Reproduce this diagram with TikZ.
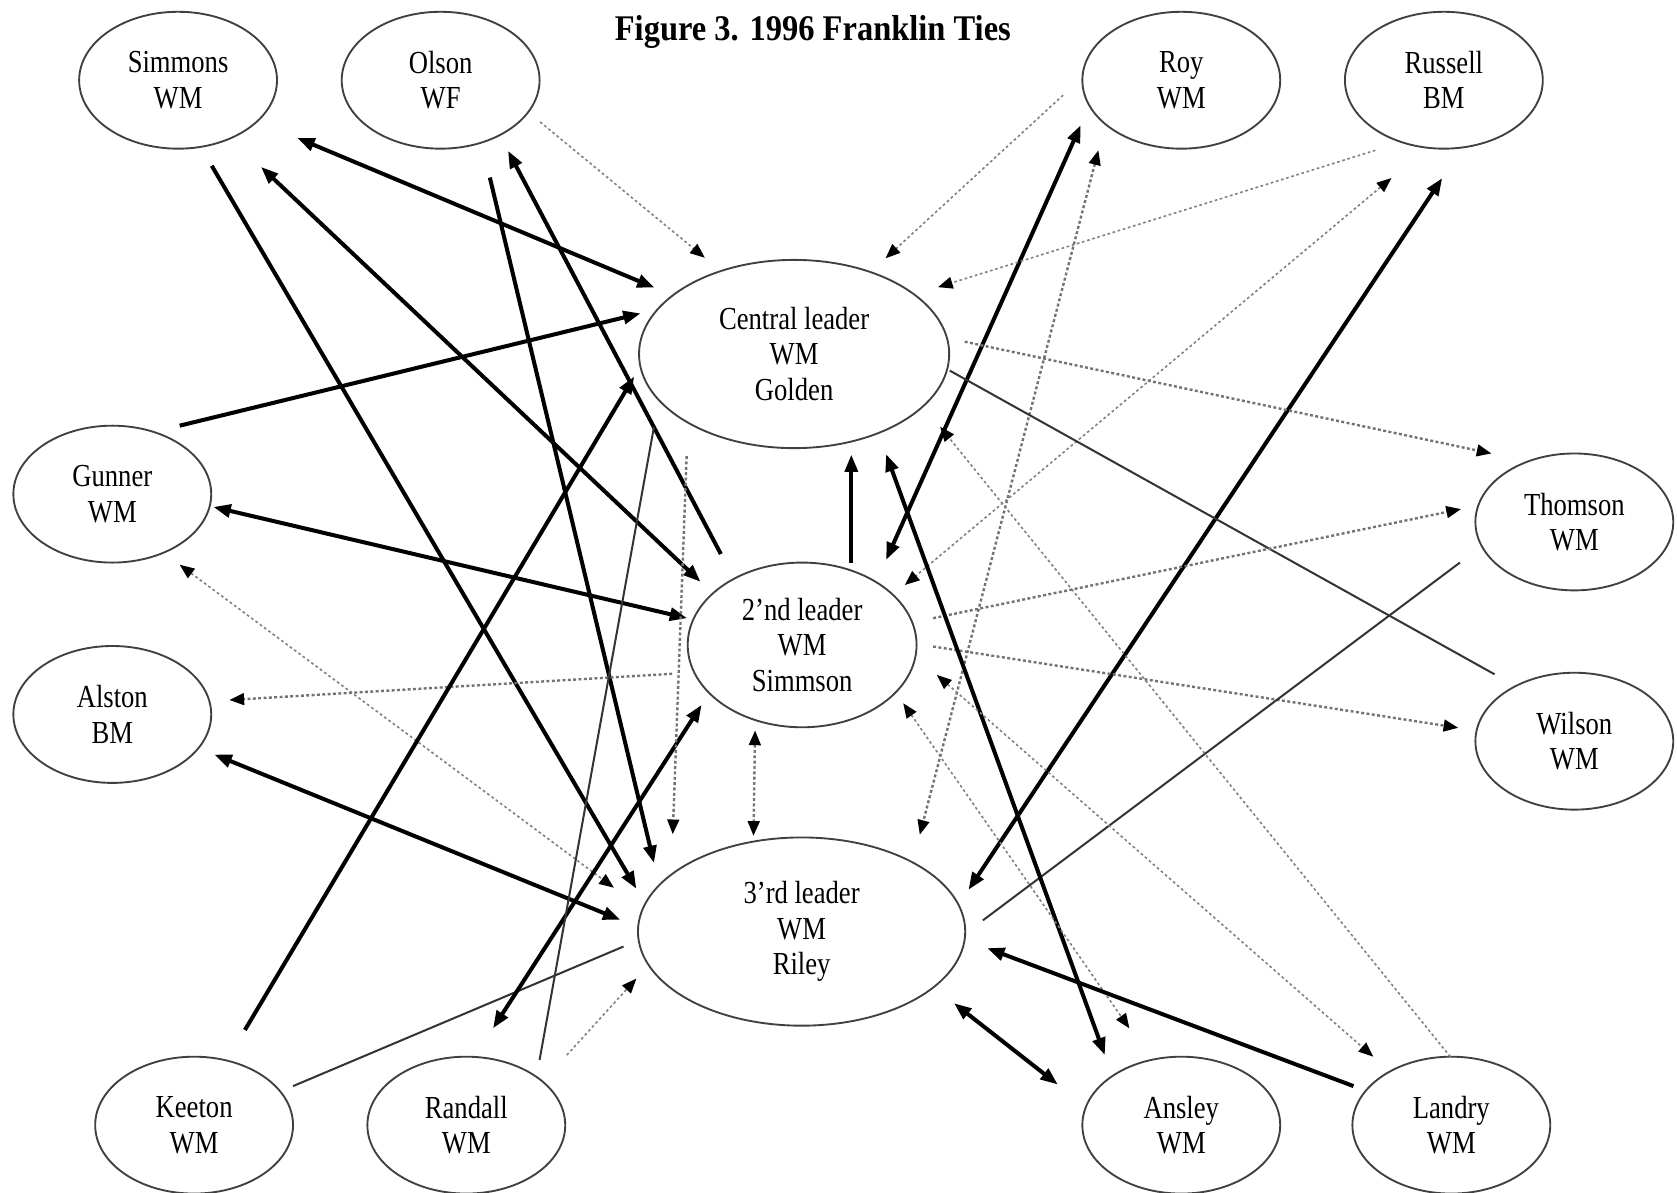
\documentclass[tikz,border=0pt]{standalone}
\usepackage{fontspec}
\setmainfont{Liberation Serif}[FakeStretch=0.83]
\newfontfamily\titlefont{Liberation Serif}[FakeStretch=0.9]
\usetikzlibrary{arrows.meta,calc,shapes.geometric}
\begin{document}
\begin{tikzpicture}[x=0.4pt,y=-0.4pt,
  person/.style={ellipse, draw=black!75, line width=0.7pt, inner sep=0pt,
    minimum width=74pt, minimum height=51.2pt, align=center,
    font=\fontsize{12}{13.2}\selectfont},
  bigcen/.style={person, minimum width=116pt, minimum height=70.4pt},
  bigsec/.style={person, minimum width=85.6pt, minimum height=61.6pt},
  bigthi/.style={person, minimum width=122.4pt, minimum height=70.4pt},
  tiethick/.style={draw=black, line width=1.5pt,
    >={Triangle[length=6.5pt,width=4.8pt]}},
  tiethin/.style={draw=black!80, line width=0.75pt},
  tiedot/.style={draw=black!50, line width=0.6pt, dash pattern=on 1pt off 1pt,
    >={Triangle[length=5.5pt,width=4.4pt,color=black]}},
  tiedotb/.style={draw=black!55, line width=0.9pt, dash pattern=on 1.1pt off 0.9pt,
    >={Triangle[length=5.5pt,width=4.4pt,color=black]}}
]
\useasboundingbox (0,0) rectangle (1568,1115);

\node[font=\titlefont\bfseries\fontsize{13.5}{15}\selectfont] (title) at (760,30) {Figure 3. 1996 Franklin Ties};

\node[person] (Sim) at (166.5,75) {Simmons\\WM};
\node[person] (Ols) at (412,75) {Olson\\WF};
\node[person] (Roy) at (1104.5,75) {Roy\\WM};
\node[person] (Rus) at (1350,75) {Russell\\BM};
\node[person] (Gun) at (105,462) {Gunner\\WM};
\node[person] (Als) at (105,668) {Alston\\BM};
\node[person] (Tho) at (1472,488) {Thomson\\WM};
\node[person] (Wil) at (1472,693) {Wilson\\WM};
\node[person] (Kee) at (181.5,1052) {Keeton\\WM};
\node[person] (Ran) at (436,1052) {Randall\\WM};
\node[person] (Ans) at (1104.5,1052) {Ansley\\WM};
\node[person] (Lan) at (1357,1052) {Landry\\WM};
\node[bigcen] (Cen) at (742.5,331) {Central leader\\WM\\Golden};
\node[bigsec] (Sec) at (750,603) {2’nd leader\\WM\\Simmson};
\node[bigthi] (Thi) at (749.5,871) {3’rd leader\\WM\\Riley};

% Simmons
\draw[tiethick,<->] ($(Sim)+(111.5,54)$) -- ($(Cen)+(-130.5,-62)$);
\draw[tiethick,->] ($(Sim)+(31.5,80)$) -- ($(Thi)+(-154.5,-40)$);
\draw[tiethick,<->] ($(Sim)+(77.5,81)$) -- ($(Sec)+(-95,-59)$);
% Olson
\draw[tiedot,->] ($(Ols)+(93,39)$) -- ($(Cen)+(-83.5,-90)$);
\draw[tiethick,->] ($(Sec)+(-76,-85)$) -- ($(Ols)+(63,66)$);
\draw[tiethick,->] ($(Ols)+(46,91)$) -- ($(Thi)+(-138,-64)$);
% Gunner
\draw[tiethick,->] ($(Gun)+(63,-64)$) -- ($(Cen)+(-143.5,-38)$);
\draw[tiethick,<->] ($(Gun)+(94.5,12)$) -- ($(Sec)+(-107.5,-25)$);
\draw[tiedot,<->] ($(Gun)+(63,66)$) -- ($(Thi)+(-175.5,-41)$);
% Alston
\draw[tiedotb,->] ($(Sec)+(-121.5,27)$) -- ($(Als)+(109.5,-13.5)$);
\draw[tiethick,<->] ($(Als)+(95.5,37.5)$) -- ($(Thi)+(-169.5,-11)$);
% Keeton
\draw[tiethick,->] ($(Kee)+(47.5,-89)$) -- ($(Cen)+(-149.5,21)$);
\draw[tiethin] ($(Kee)+(92.5,-36.5)$) -- ($(Thi)+(-166.5,14)$);
% Randall
\draw[tiethick,<->] ($(Ran)+(25,-90.5)$) -- ($(Sec)+(-94,56)$);
\draw[tiethin] ($(Ran)+(68.5,-61)$) -- ($(Cen)+(-131,68)$);
\draw[tiedot,->] ($(Ran)+(94,-65.5)$) -- ($(Thi)+(-154.5,44)$);
% leaders
\draw[tiedotb,->] ($(Cen)+(-100.5,95.5)$) -- ($(Thi)+(-120.5,-91)$);
\draw[tiedotb,<->] ($(Sec)+(-44,80)$) -- ($(Thi)+(-45,-89.5)$);
\draw[tiethick,->] ($(Sec)+(46,-77)$) -- ($(Cen)+(53.5,94)$);
% Roy
\draw[tiedot,->] ($(Roy)+(-110.5,14)$) -- ($(Cen)+(85.5,-89.5)$);
\draw[tiethick,<->] ($(Roy)+(-94,42)$) -- ($(Sec)+(78.5,-79.5)$);
\draw[tiedotb,<->] ($(Roy)+(-77.5,65.5)$) -- ($(Thi)+(110.5,-90.5)$);
% Russell
\draw[tiedot,->] ($(Rus)+(-64,65.5)$) -- ($(Cen)+(134.5,-62.5)$);
\draw[tiedot,<->] ($(Rus)+(-49,91.5)$) -- ($(Sec)+(96,-56)$);
\draw[tiethick,<->] ($(Rus)+(-1.5,91.5)$) -- ($(Thi)+(156,-39)$);
% Thomson / Wilson
\draw[tiedotb,->] ($(Cen)+(159.5,-11.5)$) -- ($(Tho)+(-77.5,-64)$);
\draw[tiethin] ($(Cen)+(145.5,15.5)$) -- ($(Wil)+(-74.5,-62.5)$);
\draw[tiedotb,->] ($(Sec)+(122.5,-25)$) -- ($(Tho)+(-106,-12)$);
\draw[tiedotb,->] ($(Sec)+(122.5,1.5)$) -- ($(Wil)+(-108.5,-12.5)$);
\draw[tiethin] ($(Tho)+(-107,38)$) -- ($(Thi)+(169.5,-10.5)$);
% Ansley / Landry
\draw[tiethick,<->] ($(Cen)+(86,93.5)$) -- ($(Ans)+(-71.5,-65.5)$);
\draw[tiedot,->] ($(Lan)+(-1,-64)$) -- ($(Cen)+(136.5,68)$);
\draw[tiedot,<->] ($(Sec)+(126,28)$) -- ($(Lan)+(-73,-64)$);
\draw[tiedot,<->] ($(Sec)+(94.5,54.5)$) -- ($(Ans)+(-48.5,-90.5)$);
\draw[tiethick,->] ($(Lan)+(-91.5,-36.5)$) -- ($(Thi)+(173.5,15.5)$);
\draw[tiethick,<->] ($(Thi)+(142.5,67)$) -- ($(Ans)+(-115.5,-38)$);
\end{tikzpicture}
\end{document}
